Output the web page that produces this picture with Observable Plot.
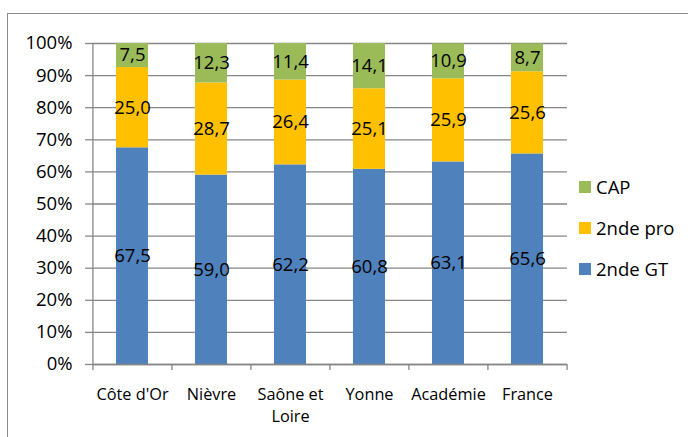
<!DOCTYPE html>
<html><head><meta charset="utf-8">
<script src="https://cdn.jsdelivr.net/npm/d3@7"></script>
<script src="https://cdn.jsdelivr.net/npm/@observablehq/plot@0.6"></script>
<style>
body{margin:0;background:#fff;}
#wrap{position:relative;width:688px;height:437px;overflow:hidden;font-family:"Open Sans",sans-serif;background:#fff;}
#wrap svg{position:absolute;left:0;top:0;}
#frame{position:absolute;left:7px;top:13px;width:720px;height:460px;border-left:1.5px solid #8a8a8a;border-top:1.5px solid #8a8a8a;pointer-events:none;}
.item{position:absolute;left:579px;height:24px;display:flex;align-items:center;font-size:18.5px;line-height:24px;color:#000;white-space:nowrap;}
.sw{width:12px;height:12px;margin-right:5px;flex:none;}
</style>
</head><body>
<div id="wrap"><div id="frame"></div></div>
<script>
const categories = ["Côte d'Or", "Nièvre", "Saône et Loire", "Yonne", "Académie", "France"];
const series = ["2nde GT", "2nde pro", "CAP"];
const gtValues = [67.5, 59.0, 62.2, 60.8, 63.1, 65.6];
const proValues = [25.0, 28.7, 26.4, 25.1, 25.9, 25.6];
const capValues = [7.5, 12.3, 11.4, 14.1, 10.9, 8.7];
const seriesColors = ["#4F81BD", "#FFC000", "#9BBB59"];
const yTicks = [0, 10, 20, 30, 40, 50, 60, 70, 80, 90, 100];

const valuesBySeries = [gtValues, proValues, capValues];
const data = categories.flatMap((c, i) => series.map((s, j) => ({cat: c, serie: s, value: valuesBySeries[j][i]})));
const fmt = v => d3.format(".1f")(v).replace(".", ",");

const W = 688, H = 437, mL = 92, mR = 121, mT = 43, mB = 73;
const half = (W - mL - mR) / categories.length / 2;
const gray = "#868686";

const chart = Plot.plot({
  width: W, height: H,
  marginLeft: mL, marginRight: mR, marginTop: mT, marginBottom: mB,
  style: {fontFamily: "'Open Sans', sans-serif", fontSize: "18.5px", background: "white", color: "black"},
  x: {domain: categories, paddingInner: 0.6, paddingOuter: 0.3, label: null},
  y: {domain: [0, 100], label: null},
  color: {domain: series, range: seriesColors},
  marks: [
    Plot.gridY(yTicks, {stroke: gray, strokeOpacity: 1, strokeWidth: 1.3}),
    Plot.barY(data, {x: "cat", y: "value", fill: "serie"}),
    Plot.text(data, Plot.stackY({x: "cat", y: "value", z: "serie", text: d => fmt(d.value), fill: "black", fontSize: 18.5})),
    Plot.ruleY([0], {stroke: gray, strokeWidth: 1.3}),
    Plot.ruleX([categories[0]], {dx: -half, stroke: gray, strokeWidth: 1.3}),
    Plot.axisY(yTicks, {tickFormat: d => d + "%", tickSize: 7, tickPadding: 13, stroke: gray, strokeWidth: 1.3, strokeOpacity: 1, fill: "black", fontSize: 18.5, label: null}),
    Plot.axisX({tickSize: 0, tickPadding: 20, fontSize: 16.3, lineHeight: 1.35, fill: "black", label: null, tickFormat: d => d.replace(" et ", " et\n")}),
    Plot.axisX({tickSize: 6, dx: -half, stroke: gray, strokeWidth: 1.3, strokeOpacity: 1, tickFormat: () => "", label: null}),
    Plot.axisX([categories[categories.length - 1]], {tickSize: 6, dx: half, stroke: gray, strokeWidth: 1.3, strokeOpacity: 1, tickFormat: () => "", label: null})
  ]
});
const wrap = document.getElementById("wrap");
wrap.insertBefore(chart, wrap.firstChild);

const legendTops = [175, 216, 257];
series.slice().reverse().forEach((s, k) => {
  const item = document.createElement("div");
  item.className = "item";
  item.style.top = legendTops[k] + "px";
  const sw = document.createElement("span");
  sw.className = "sw";
  sw.style.background = seriesColors[series.indexOf(s)];
  const t = document.createElement("span");
  t.textContent = s;
  item.appendChild(sw); item.appendChild(t);
  wrap.appendChild(item);
});
</script>
</body></html>
